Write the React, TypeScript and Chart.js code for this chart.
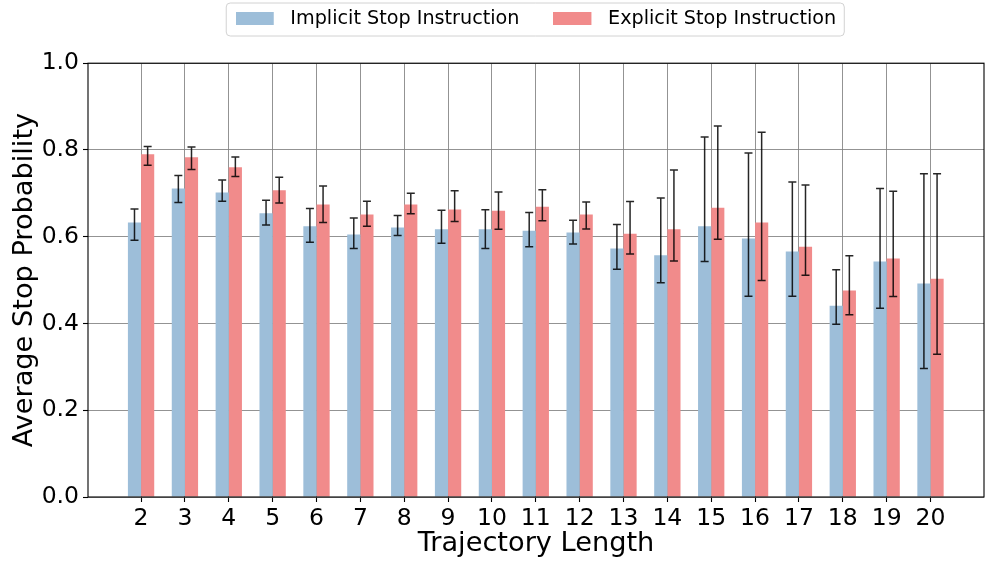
import React, { useEffect, useRef } from 'react';
import { Chart, registerables } from 'chart.js';

Chart.register(...registerables);

const categories = [2, 3, 4, 5, 6, 7, 8, 9, 10, 11, 12, 13, 14, 15, 16, 17, 18, 19, 20];

const implicitMean = [0.633, 0.711, 0.702, 0.654, 0.624, 0.605, 0.621, 0.617, 0.617, 0.614, 0.610, 0.573, 0.557, 0.624, 0.596, 0.566, 0.441, 0.543, 0.492];
const implicitLow = [0.592, 0.679, 0.682, 0.627, 0.587, 0.573, 0.603, 0.585, 0.573, 0.577, 0.583, 0.525, 0.494, 0.543, 0.463, 0.463, 0.398, 0.435, 0.296];
const implicitHigh = [0.664, 0.741, 0.731, 0.684, 0.665, 0.643, 0.649, 0.661, 0.662, 0.656, 0.638, 0.628, 0.689, 0.830, 0.793, 0.726, 0.524, 0.711, 0.745];

const explicitMean = [0.790, 0.783, 0.760, 0.707, 0.674, 0.651, 0.674, 0.663, 0.660, 0.669, 0.651, 0.607, 0.617, 0.667, 0.633, 0.577, 0.476, 0.550, 0.503];
const explicitLow = [0.765, 0.755, 0.739, 0.678, 0.633, 0.624, 0.653, 0.635, 0.617, 0.637, 0.618, 0.560, 0.544, 0.594, 0.499, 0.511, 0.420, 0.462, 0.329];
const explicitHigh = [0.808, 0.807, 0.784, 0.737, 0.717, 0.682, 0.700, 0.706, 0.703, 0.708, 0.680, 0.681, 0.754, 0.855, 0.841, 0.719, 0.556, 0.705, 0.745];

const yTicks = [0, 0.2, 0.4, 0.6, 0.8, 1.0];

const seriesLabels = ['Implicit Stop Instruction', 'Explicit Stop Instruction'];
const xTitle = 'Trajectory Length';
const yTitle = 'Average Stop Probability';

const FONT = "'DejaVu Sans', 'Noto Sans', sans-serif";
const BLUE = 'rgb(157,190,217)';
const RED = 'rgb(241,139,139)';
const GRID = 'rgba(128,128,128,0.85)';
const LEGEND_PAD = 34;
const LEGEND_FONT = 19.2;
const PATCH_W = 38;
const PATCH_H = 13;
const PATCH_SLOT = 45;

function makePatch(color: string): HTMLCanvasElement {
  const c = document.createElement('canvas');
  c.width = PATCH_SLOT;
  c.height = PATCH_H;
  const g = c.getContext('2d');
  if (g) {
    g.fillStyle = color;
    g.fillRect(0, 0, PATCH_W, PATCH_H);
  }
  return c;
}

export default function App() {
  const ref = useRef<HTMLCanvasElement | null>(null);

  useEffect(() => {
    if (!ref.current) return;

    const patches = [makePatch(BLUE), makePatch(RED)];

    const errorBars = {
      id: 'errorBars',
      afterDatasetsDraw(chart: any) {
        const ctx = chart.ctx;
        const ys = chart.scales.y;
        const ranges = [
          [implicitLow, implicitHigh],
          [explicitLow, explicitHigh],
        ];
        ranges.forEach(([lo, hi], di) => {
          const meta = chart.getDatasetMeta(di);
          meta.data.forEach((bar: any, i: number) => {
            const x = bar.x;
            const yl = ys.getPixelForValue(lo[i]);
            const yh = ys.getPixelForValue(hi[i]);
            ctx.save();
            ctx.strokeStyle = 'rgba(0,0,0,0.85)';
            ctx.lineWidth = 1.5;
            ctx.beginPath();
            ctx.moveTo(x, yl);
            ctx.lineTo(x, yh);
            ctx.moveTo(x - 4, yl);
            ctx.lineTo(x + 4, yl);
            ctx.moveTo(x - 4, yh);
            ctx.lineTo(x + 4, yh);
            ctx.stroke();
            ctx.restore();
          });
        });
      },
      afterDraw(chart: any) {
        const { left, top, right, bottom } = chart.chartArea;
        const ctx = chart.ctx;
        ctx.save();
        ctx.strokeStyle = '#000';
        ctx.lineWidth = 1.1;
        ctx.strokeRect(left, top, right - left, bottom - top);
        ctx.restore();
      },
    };

    const legendTweak = {
      id: 'legendTweak',
      afterLayout(chart: any) {
        const lg = chart.legend;
        if (!lg) return;
        lg.left = chart.chartArea.left;
        lg.right = chart.chartArea.right;
        lg.width = lg.right - lg.left;
        lg.top = 9.2 - LEGEND_PAD;
      },
      beforeDraw(chart: any) {
        const lg = chart.legend;
        if (!lg || !lg.lineWidths) return;
        const ctx = chart.ctx;
        const startX = (lg.left + LEGEND_PAD + lg.right - lg.lineWidths[0]) / 2;
        const contentW = lg.lineWidths[0] - LEGEND_PAD;
        const x = startX - 9.5;
        const w = contentW + 17.5;
        const y = 3;
        const h = 33;
        ctx.save();
        ctx.fillStyle = '#fff';
        ctx.strokeStyle = 'rgb(210,210,210)';
        ctx.lineWidth = 1;
        ctx.beginPath();
        ctx.roundRect(x, y, w, h, 4);
        ctx.fill();
        ctx.stroke();
        ctx.restore();
      },
    };

    const chart = new Chart(ref.current, {
      type: 'bar',
      data: {
        datasets: [
          {
            label: seriesLabels[0],
            data: categories.map((c, i) => ({ x: c, y: implicitMean[i] })),
            backgroundColor: BLUE,
            borderWidth: 0,
            categoryPercentage: 0.6,
            barPercentage: 1.0,
          },
          {
            label: seriesLabels[1],
            data: categories.map((c, i) => ({ x: c, y: explicitMean[i] })),
            backgroundColor: RED,
            borderWidth: 0,
            categoryPercentage: 0.6,
            barPercentage: 1.0,
          },
        ],
      },
      options: {
        animation: false,
        responsive: false,
        maintainAspectRatio: false,
        layout: { padding: { left: 0, right: 2, top: 0, bottom: 0 } },
        plugins: {
          tooltip: { enabled: false },
          legend: {
            display: true,
            position: 'top',
            maxHeight: 64,
            labels: {
              usePointStyle: true,
              pointStyleWidth: PATCH_SLOT,
              boxHeight: PATCH_H,
              padding: LEGEND_PAD,
              color: '#000',
              font: { family: FONT, size: LEGEND_FONT },
              generateLabels: (chart: any) =>
                chart.data.datasets.map((ds: any, i: number) => ({
                  text: ds.label,
                  fillStyle: ds.backgroundColor,
                  strokeStyle: ds.backgroundColor,
                  lineWidth: 0,
                  hidden: false,
                  pointStyle: patches[i],
                  datasetIndex: i,
                  fontColor: '#000',
                })),
            },
          },
        },
        scales: {
          x: {
            type: 'linear',
            min: 0.79,
            max: 21.22,
            offset: false,
            afterBuildTicks: (axis: any) => {
              axis.ticks = categories.map((v) => ({ value: v }));
            },
            afterFit: (axis: any) => {
              axis.height = 66;
            },
            grid: {
              offset: false,
              color: GRID,
              lineWidth: 1,
              drawTicks: true,
              tickLength: 5,
              tickColor: '#000',
              tickWidth: 1.1,
            },
            border: { display: false },
            ticks: {
              autoSkip: false,
              maxRotation: 0,
              padding: 3,
              color: '#000',
              font: { family: FONT, size: 23.5 },
              callback: (v: any) => String(v),
            },
            title: {
              display: true,
              text: xTitle,
              color: '#000',
              font: { family: FONT, size: 27.2 },
              padding: { top: 0, bottom: 3 },
            },
          },
          y: {
            type: 'linear',
            min: 0,
            max: 1,
            afterBuildTicks: (axis: any) => {
              axis.ticks = yTicks.map((v) => ({ value: v }));
            },
            afterFit: (axis: any) => {
              axis.width = 88;
            },
            grid: {
              color: GRID,
              lineWidth: 1,
              drawTicks: true,
              tickLength: 5,
              tickColor: '#000',
              tickWidth: 1.1,
            },
            border: { display: false },
            ticks: {
              padding: 4,
              color: '#000',
              font: { family: FONT, size: 23.5 },
              callback: (v: any) => Number(v).toFixed(1),
            },
            title: {
              display: true,
              text: yTitle,
              color: '#000',
              font: { family: FONT, size: 27.2 },
              padding: { top: 8.6, bottom: 0 },
            },
          },
        },
      },
      plugins: [errorBars, legendTweak],
    } as any);

    return () => chart.destroy();
  }, []);

  return (
    <div style={{ position: 'absolute', left: 0, top: 0, width: 986, height: 563, background: '#fff' }}>
      <canvas ref={ref} width={986} height={563} style={{ display: 'block', width: 986, height: 563 }} />
    </div>
  );
}
